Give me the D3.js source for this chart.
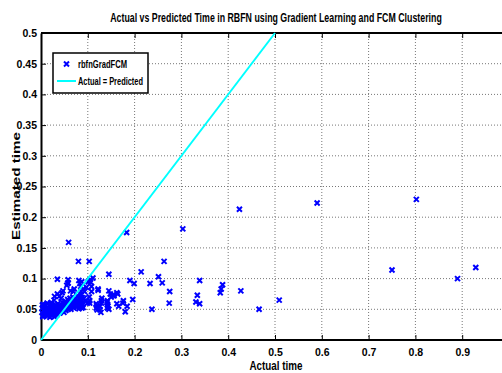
<!DOCTYPE html>
<html>
<head>
<meta charset="utf-8">
<script src="https://cdn.jsdelivr.net/npm/d3@7"></script>
<style>
  body { margin: 0; background: #fff; }
  svg { display: block; }
  text { font-family: "Liberation Sans Narrow", "Arial Narrow", "Liberation Sans", Arial, sans-serif; font-weight: bold; fill: #000; }
</style>
</head>
<body>
<svg width="502" height="373"></svg>
<script>
// actual vs estimated times
const actual = [
  0.002, 0.003, 0.004, 0.005, 0.006, 0.007, 0.008, 0.009, 0.010, 0.011,
  0.012, 0.013, 0.014, 0.015, 0.016, 0.017, 0.018, 0.019, 0.020, 0.021,
  0.022, 0.023, 0.024, 0.025, 0.026, 0.027, 0.028, 0.029, 0.030, 0.031,
  0.032, 0.033, 0.034, 0.035, 0.036, 0.037, 0.038, 0.039, 0.040, 0.041,
  0.042, 0.043, 0.044, 0.045, 0.046, 0.047, 0.048, 0.049, 0.050, 0.051,
  0.052, 0.053, 0.054, 0.055, 0.056, 0.057, 0.058, 0.059, 0.060, 0.061,
  0.062, 0.063, 0.064, 0.065, 0.066, 0.067, 0.068, 0.069, 0.070, 0.071,
  0.072, 0.073, 0.074, 0.075, 0.076, 0.077, 0.078, 0.079, 0.080, 0.081,
  0.082, 0.083, 0.084, 0.085, 0.086, 0.087, 0.088, 0.089, 0.090,
  0.004, 0.009, 0.014, 0.019, 0.024, 0.029, 0.034, 0.003, 0.013, 0.022,
  0.035, 0.058, 0.055, 0.035, 0.039, 0.043, 0.029, 0.028, 0.047, 0.045,
  0.063, 0.071, 0.069, 0.057, 0.058, 0.059, 0.080, 0.103, 0.081, 0.083,
  0.085, 0.087, 0.090, 0.093, 0.097, 0.106, 0.108, 0.111, 0.105, 0.101,
  0.103, 0.104, 0.108, 0.122, 0.104, 0.086, 0.086, 0.086, 0.086, 0.086,
  0.086, 0.080, 0.078, 0.118, 0.118, 0.120, 0.126, 0.128, 0.129, 0.129,
  0.141, 0.143, 0.145, 0.145, 0.148, 0.153, 0.155, 0.162, 0.162, 0.166,
  0.176, 0.175, 0.184, 0.180, 0.196, 0.145, 0.183, 0.214, 0.263, 0.251,
  0.190, 0.199, 0.233, 0.259, 0.275, 0.237, 0.274, 0.303, 0.339, 0.334,
  0.331, 0.339, 0.388, 0.385, 0.383, 0.427, 0.424, 0.466, 0.509, 0.590,
  0.802, 0.750, 0.890, 0.929, 0.164, 0.156, 0.150, 0.142, 0.142, 0.142,
  0.130, 0.122, 0.126, 0.119, 0.092, 0.095, 0.099
];
const predicted = [
  0.045, 0.052, 0.040, 0.058, 0.048, 0.055, 0.043, 0.050, 0.057, 0.046,
  0.041, 0.053, 0.059, 0.047, 0.044, 0.051, 0.056, 0.042, 0.049, 0.054,
  0.046, 0.058, 0.043, 0.051, 0.055, 0.048, 0.041, 0.053, 0.057, 0.045,
  0.050, 0.055, 0.043, 0.048, 0.059, 0.052, 0.046, 0.056, 0.044, 0.050,
  0.054, 0.058, 0.047, 0.052, 0.061, 0.049, 0.055, 0.045, 0.058, 0.051,
  0.063, 0.048, 0.056, 0.060, 0.052, 0.066, 0.050, 0.058, 0.062, 0.054,
  0.068, 0.057, 0.050, 0.061, 0.064, 0.055, 0.070, 0.059, 0.052, 0.065,
  0.061, 0.057, 0.067, 0.054, 0.063, 0.059, 0.072, 0.056, 0.062, 0.051,
  0.066, 0.058, 0.054, 0.064, 0.060, 0.052, 0.069, 0.057, 0.053,
  0.038, 0.041, 0.039, 0.037, 0.040, 0.038, 0.041, 0.057, 0.060, 0.061,
  0.099, 0.093, 0.089, 0.075, 0.071, 0.068, 0.071, 0.065, 0.080, 0.077,
  0.080, 0.083, 0.079, 0.092, 0.098, 0.159, 0.128, 0.128, 0.097, 0.092,
  0.087, 0.095, 0.083, 0.079, 0.086, 0.094, 0.087, 0.101, 0.098, 0.095,
  0.070, 0.064, 0.079, 0.083, 0.060, 0.079, 0.074, 0.069, 0.064, 0.059,
  0.054, 0.060, 0.055, 0.059, 0.052, 0.049, 0.049, 0.045, 0.064, 0.060,
  0.061, 0.055, 0.050, 0.080, 0.075, 0.073, 0.073, 0.077, 0.059, 0.055,
  0.064, 0.060, 0.055, 0.046, 0.066, 0.107, 0.175, 0.111, 0.128, 0.103,
  0.097, 0.092, 0.092, 0.093, 0.079, 0.050, 0.060, 0.181, 0.097, 0.073,
  0.062, 0.059, 0.090, 0.083, 0.077, 0.080, 0.213, 0.050, 0.065, 0.223,
  0.229, 0.114, 0.100, 0.118, 0.075, 0.072, 0.070, 0.064, 0.057, 0.052,
  0.068, 0.081, 0.055, 0.056, 0.068, 0.063, 0.060
];
const xTicks = [0, 0.1, 0.2, 0.3, 0.4, 0.5, 0.6, 0.7, 0.8, 0.9];
const yTicks = [0, 0.05, 0.1, 0.15, 0.2, 0.25, 0.3, 0.35, 0.4, 0.45, 0.5];
const idealLine = [0, 0.5];

const svg = d3.select("svg");
const pL = 41, pR = 509, pT = 33, pB = 340;

const x = d3.scaleLinear().domain([0, 1]).range([pL, pR]);
const y = d3.scaleLinear().domain([0, 0.5]).range([pB, pT]);
const fmt = d => d === 0 ? "0" : String(+d.toFixed(2));

// squeeze a label horizontally to the width it has in the figure
function fitText(sel, cx, cy, w, rot) {
  const nat = sel.node().getComputedTextLength();
  const k = Math.min(1, w / nat);
  sel.attr("text-anchor", "middle")
    .attr("transform", `translate(${cx},${cy})${rot ? " rotate(-90)" : ""} scale(${k},1)`);
}

// grid
const grid = svg.append("g")
  .attr("stroke", "#777")
  .attr("stroke-width", 1)
  .attr("stroke-dasharray", "1,2");
grid.selectAll(".gx")
  .data(xTicks.slice(1))
  .join("line")
  .attr("class", "gx")
  .attr("x1", d => x(d)).attr("x2", d => x(d))
  .attr("y1", pT).attr("y2", pB);
grid.selectAll(".gy")
  .data(yTicks.slice(1, -1))
  .join("line")
  .attr("class", "gy")
  .attr("x1", pL).attr("x2", pR)
  .attr("y1", d => y(d)).attr("y2", d => y(d));

// axes (MATLAB style: ticks pointing inward)
const xAxis = svg.append("g")
  .attr("transform", `translate(0,${pB})`)
  .call(d3.axisBottom(x).tickValues(xTicks).tickSizeInner(-5).tickSizeOuter(0).tickPadding(9).tickFormat(fmt));
const xTop = svg.append("g")
  .attr("transform", `translate(0,${pT})`)
  .call(d3.axisTop(x).tickValues(xTicks).tickSizeInner(-5).tickSizeOuter(0).tickFormat(""));
const yAxis = svg.append("g")
  .attr("transform", `translate(${pL},0)`)
  .call(d3.axisLeft(y).tickValues(yTicks).tickSizeInner(-5).tickSizeOuter(0).tickPadding(4).tickFormat(fmt));

[xAxis, xTop, yAxis].forEach(g => {
  g.attr("font-family", null);
  g.select(".domain").attr("stroke", "#000").attr("stroke-width", 2);
  g.selectAll(".tick line").attr("stroke", "#000").attr("stroke-width", 1);
  g.selectAll("text")
    .attr("font-size", 10.5)
    .style("font-weight", "bold");
});
// axis lines run on to the clipped right edge of the box
xAxis.select(".domain").attr("d", `M${pL},0H${pR}`);
xTop.select(".domain").attr("d", `M${pL},0H${pR}`);

// points
const pts = actual.map((a, i) => [a, predicted[i]]);
const s = 2.5;
const xMark = `M${-s},${-s}L${s},${s}M${-s},${s}L${s},${-s}`;
svg.append("g")
  .attr("stroke", "#0000ff")
  .attr("stroke-width", 2)
  .attr("fill", "none")
  .selectAll("path")
  .data(pts)
  .join("path")
  .attr("transform", d => `translate(${x(d[0])},${y(d[1])})`)
  .attr("d", xMark);

// Actual = Predicted line
svg.append("line")
  .attr("x1", x(idealLine[0])).attr("y1", y(idealLine[0]))
  .attr("x2", x(idealLine[1])).attr("y2", y(idealLine[1]))
  .attr("stroke", "#00ffff")
  .attr("stroke-width", 2);

// legend
const lg = svg.append("g");
lg.append("rect")
  .attr("x", 53).attr("y", 53).attr("width", 95).attr("height", 40)
  .attr("fill", "#fff").attr("stroke", "#000").attr("stroke-width", 1.5);
lg.append("path")
  .attr("transform", "translate(66.5,64)")
  .attr("d", xMark)
  .attr("stroke", "#0000ff").attr("stroke-width", 2);
lg.append("text").attr("x", 78).attr("y", 67.5).attr("font-size", 10.5)
  .attr("textLength", 49).attr("lengthAdjust", "spacingAndGlyphs")
  .text("rbfnGradFCM");
lg.append("line")
  .attr("x1", 57).attr("x2", 76).attr("y1", 81).attr("y2", 81)
  .attr("stroke", "#00ffff").attr("stroke-width", 2);
lg.append("text").attr("x", 78).attr("y", 85).attr("font-size", 10.5)
  .attr("textLength", 65).attr("lengthAdjust", "spacingAndGlyphs")
  .text("Actual = Predicted");

// labels
const title = svg.append("text").attr("font-size", 12)
  .text("Actual vs Predicted Time in RBFN using Gradient Learning and FCM Clustering");
fitText(title, 276, 21.5, 332, false);
const xLab = svg.append("text").attr("font-size", 12.5).text("Actual time");
fitText(xLab, 276, 370, 53, false);
svg.append("text")
  .attr("transform", "translate(19.5,186) rotate(-90)")
  .attr("text-anchor", "middle").attr("font-size", 11)
  .style("font-family", "'Liberation Sans', Arial, sans-serif")
  .attr("textLength", 108).attr("lengthAdjust", "spacingAndGlyphs")
  .text("Estimated time");
</script>
</body>
</html>
